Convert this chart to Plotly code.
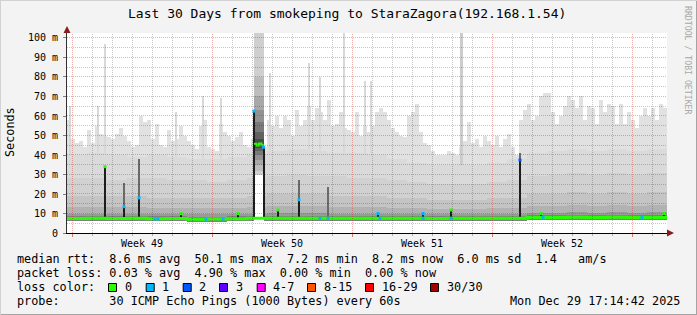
import math
import plotly.graph_objects as go

# ---------------- data ----------------
ENV_BIN = 0.2          # days per envelope bin
# upper edge of the smoke (max ping), one value per 0.2 day
smoke_max = [
    58, 48, 46, 47, 44, 53, 46, 55, 51, 50,
    49, 48, 51, 54, 50, 47, 44, 45, 60, 57,
    58, 48, 56, 45, 44, 53, 47, 48, 55, 50,
    47, 45, 43, 55, 58, 44, 43, 42, 56, 52,
    50, 47, 49, 52, 45, 44, 48, 45, 45, 44,
    58, 55, 60, 54, 60, 58, 50, 63, 55, 58,
    65, 58, 64, 62, 58, 68, 55, 56, 62, 54,
    53, 52, 62, 50, 55, 52, 55, 62, 64, 62,
    58, 54, 52, 50, 49, 60, 62, 66, 52, 46,
    45, 42, 40, 40, 40, 42, 41, 40, 44, 47,
    57, 46, 48, 44, 50, 47, 45, 50, 44, 48,
    51, 44, 40, 58, 63, 66, 58, 60, 70, 72,
    72, 62, 56, 60, 65, 70, 68, 64, 70, 58,
    65, 64, 56, 68, 62, 66, 65, 56, 66, 56,
    62, 58, 54, 60, 64, 60, 64, 58, 66, 64,
]
# inner smoke bands, one value per day
band2_top = [40, 41, 40, 39, 40, 39, 38, 38, 39, 40, 42, 43, 42, 41, 41,
             40, 38, 36, 35, 35, 35, 36, 38, 41, 42, 43, 42, 43, 42, 43]
band3_top = [28, 28, 27, 28, 28, 27, 27, 26, 27, 28, 29, 30, 29, 29, 28,
             28, 27, 26, 25, 25, 25, 26, 27, 29, 30, 31, 30, 31, 30, 31]
band4_top = [19, 19, 19, 19, 18, 18, 18, 18, 18, 19, 20, 20, 20, 19, 19,
             19, 18, 18, 17, 17, 17, 18, 18, 20, 20, 21, 20, 21, 20, 21]
band5_top = [13.5, 13.5, 13.5, 13.5, 13, 13, 13, 13, 13, 13.5, 14, 14, 14, 13.5, 13.5,
             13.5, 13, 13, 12.5, 12.5, 12.5, 13, 13, 14, 14, 14.5, 14, 14.5, 14, 14.5]
band6_top = [10, 10, 10, 10, 9.8, 9.8, 9.8, 9.6, 9.8, 10, 10.2, 10.2, 10.2, 10, 10,
             10, 9.8, 9.8, 9.6, 9.6, 9.6, 9.8, 9.8, 10.4, 10.4, 10.6, 10.4, 10.6, 10.4, 10.6]
band7_top = [8.6, 8.6, 8.7, 8.6, 8.5, 8.5, 8.4, 8.4, 8.5, 8.6, 8.7, 8.7, 8.6, 8.6, 8.7,
             8.6, 8.7, 8.6, 8.5, 8.6, 8.6, 8.7, 8.7, 9.1, 9.1, 9.2, 9.1, 9.2, 9.1, 9.1]
smoke_min = [6.0, 6.0, 6.1, 6.0, 5.9, 6.0, 5.8, 5.8, 5.9, 6.0, 6.1, 6.1, 6.0, 6.1, 6.1,
             6.0, 6.1, 6.0, 6.0, 6.0, 6.1, 6.1, 6.1, 6.6, 6.6, 6.7, 6.6, 6.7, 6.6, 6.6]
median_day = [7.4, 7.5, 7.4, 7.5, 7.3, 7.4, 7.1, 7.2, 7.3, 7.5, 7.5, 7.6, 7.5, 7.5, 7.6,
              7.5, 7.6, 7.5, 7.4, 7.5, 7.5, 7.6, 7.6, 8.0, 8.0, 8.1, 8.0, 8.1, 8.0, 8.0]

# isolated single high pings (thin light grey lines)
thin_spike_day = [0.15, 1.55, 1.9, 5.45, 6.8, 7.7, 10.15, 12.1, 12.65, 13.85, 14.9, 15.2]
thin_spike_val = [65, 65, 97, 62, 70, 69, 82, 87, 80, 102.5, 78, 78]
tall_col_day = [19.7]
tall_col_val = [102.5]

# short periods with a high median (dark columns)
dark_day = [1.9, 2.85, 3.6, 5.7, 8.55, 9.35, 9.83, 10.55, 11.6, 13.05, 15.55, 17.8, 19.2, 22.65, 23.7, 29.85]
dark_grey_top = [0, 25.6, 38, 0, 0, 0, 0, 0, 27, 23.7, 0, 0, 0, 41, 0, 0]
dark_black_top = [34, 13.5, 18, 10, 10, 62.5, 44, 11.8, 17, 0, 10, 10, 11.8, 37.4, 10, 10]
dark_loss = [0, 1, 1, 0, 0, 1, 1, 0, 1, 0, 1, 1, 0, 2, 0, 0]

# outage-like period at the start of week 50
gap_start, gap_end = 9.35, 9.85
gap_band_low = [29.5, 32, 35, 37.5, 40, 42, 43.5]
gap_band_high = [102.5, 80, 70, 63, 57, 52, 48]
gap_median = [45.8, 44.9, 45.9, 45.0]

# median samples with packet loss
loss_day = [4.4, 4.55, 6.95, 7.8, 12.65, 13.05, 15.65, 17.8, 19.2, 23.8, 28.75]
loss_count = [1, 1, 1, 1, 1, 1, 1, 1, 1, 1, 1]

week_line_days = [0.25, 7.25, 14.25, 21.25, 28.25]
week_label_days = [3.75, 10.75, 17.75, 24.75]
week_labels = ["Week 49", "Week 50", "Week 51", "Week 52"]
y_ticks = [0, 10, 20, 30, 40, 50, 60, 70, 80, 90, 100]
y_ticktext = ["0", "10 m", "20 m", "30 m", "40 m", "50 m", "60 m", "70 m", "80 m", "90 m", "100 m"]

title_text = "Last 30 Days from smokeping to StaraZagora(192.168.1.54)"
legend_line1 = "median rtt:  8.6 ms avg  50.1 ms max  7.2 ms min  8.2 ms now  6.0 ms sd  1.4   am/s"
legend_line2 = "packet loss: 0.03 % avg  4.90 % max  0.00 % min  0.00 % now"
legend_line3 = "loss color:"
legend_line4 = "probe:       30 ICMP Echo Pings (1000 Bytes) every 60s"
legend_date = "Mon Dec 29 17:14:42 2025"
loss_labels = ["0", "1", "2", "3", "4-7", "8-15", "16-29", "30/30"]
loss_colors = ["#26ff00", "#00b8ff", "#0059ff", "#5e00ff", "#ff00ff", "#ff5500", "#ff0000", "#a10000"]

# ---------------- geometry ----------------
W, H = 697, 315
L, R, T, B = 67, 30, 33, 82
PW, PH = W - L - R, H - T - B
Y_TOP = 102.56
X_MAX = 30
MONO = "DejaVu Sans Mono"


def px(xp):
    return (xp - L) / PW


def py(yp):
    return (T + PH - yp) / PH


def nb(s):
    return s.replace(" ", "\u00a0")


def crisp_x(d):
    p = L + d * PW / X_MAX
    return (math.floor(p) + 0.5 - L) * X_MAX / PW


def crisp_y(v):
    p = T + PH * (1 - v / Y_TOP)
    return (1 - (math.floor(p) + 0.5 - T) / PH) * Y_TOP


fig = go.Figure()

env_x = [ENV_BIN * (i + 0.5) for i in range(len(smoke_max))]
day_x = [d + 0.5 for d in range(len(band2_top))]

fig.add_trace(go.Bar(x=env_x, y=smoke_max, width=ENV_BIN, marker=dict(color="#e1e1e1", line=dict(width=0))))
fig.add_trace(go.Bar(x=thin_spike_day, y=thin_spike_val, width=0.05, marker=dict(color="#d8d8d8", line=dict(width=0))))
fig.add_trace(go.Bar(x=tall_col_day, y=tall_col_val, width=0.15, marker=dict(color="#cccccc", line=dict(width=0))))

for vals, col in [(band2_top, "#dadada"), (band3_top, "#d1d1d1"), (band4_top, "#c4c4c4"),
                  (band5_top, "#b2b2b2"), (band6_top, "#9a9a9a"), (band7_top, "#808080")]:
    fig.add_trace(go.Bar(x=day_x, y=vals, width=1.0, marker=dict(color=col, line=dict(width=0))))

fig.add_trace(go.Bar(x=day_x, y=smoke_min, width=1.0, marker=dict(color="#ffffff", line=dict(width=0))))

med_x = list(range(len(median_day) + 1))
med_y = median_day + [median_day[-1]]
fig.add_trace(go.Scatter(x=med_x, y=med_y, mode="lines", line=dict(color=loss_colors[0], width=3, shape="hv")))

loss_y = [median_day[int(d)] for d in loss_day]
fig.add_trace(go.Scatter(x=loss_day, y=loss_y, mode="markers",
                         marker=dict(symbol="square", size=3, color=[loss_colors[n] for n in loss_count], line=dict(width=0))))

# gap column
gap_c = (gap_start + gap_end) / 2
gap_w = gap_end - gap_start
fig.add_trace(go.Bar(x=[gap_c], y=[Y_TOP], width=gap_w, marker=dict(color="#ffffff", line=dict(width=0))))
gap_cols = ["#cfcfcf", "#bdbdbd", "#a8a8a8", "#929292", "#7a7a7a", "#626262", "#4a4a4a"]
for lo, hi, col in zip(gap_band_low, gap_band_high, gap_cols):
    fig.add_trace(go.Bar(x=[gap_c], y=[hi - lo], base=[lo], width=gap_w, marker=dict(color=col, line=dict(width=0))))
gm_step = gap_w / len(gap_median)
gm_x = [gap_start + gm_step * i for i in range(len(gap_median) + 1)]
fig.add_trace(go.Scatter(x=gm_x, y=gap_median + [gap_median[-1]], mode="lines",
                         line=dict(color=loss_colors[0], width=2, shape="hv")))

# dark columns
base = [median_day[int(d)] for d in dark_day]
gx = [d for d, g in zip(dark_day, dark_grey_top) if g > 0]
gy = [g - b for g, b in zip(dark_grey_top, base) if g > 0]
gb = [b for g, b in zip(dark_grey_top, base) if g > 0]
fig.add_trace(go.Bar(x=gx, y=gy, base=gb, width=0.05, marker=dict(color="#6a6a6a", line=dict(width=0))))
kx = [d for d, k in zip(dark_day, dark_black_top) if k > 0]
ky = [k - b for k, b in zip(dark_black_top, base) if k > 0]
kb = [b for k, b in zip(dark_black_top, base) if k > 0]
fig.add_trace(go.Bar(x=kx, y=ky, base=kb, width=0.1, marker=dict(color="#1c1c1c", line=dict(width=0))))
kc = [loss_colors[n] for k, n in zip(dark_black_top, dark_loss) if k > 0]
fig.add_trace(go.Scatter(x=kx, y=[k for k in dark_black_top if k > 0], mode="markers",
                         marker=dict(symbol="square", size=3, color=kc, line=dict(width=0))))

# ---------------- grid (drawn over the smoke, like rrdtool) ----------------
shapes = []
red = "rgba(210,40,40,0.38)"
grey = "rgba(0,0,0,0.22)"
for k in range(X_MAX):
    d = week_line_days[0] + k
    col = red if any(abs(d - w) < 1e-6 for w in week_line_days) else grey
    xc = crisp_x(d)
    shapes.append(dict(type="line", xref="x", yref="paper", x0=xc, x1=xc, y0=0, y1=1,
                       line=dict(color=col, width=1, dash="1px,1px"), layer="above"))
for v in range(5, 101, 5):
    col = red if v % 10 == 0 else grey
    yc = crisp_y(v)
    shapes.append(dict(type="line", xref="paper", yref="y", x0=0, x1=1, y0=yc, y1=yc,
                       line=dict(color=col, width=1, dash="1px,1px"), layer="above"))
# axis arrows
arrow = "#8b1a1a"
shapes.append(dict(type="path", xref="paper", yref="paper",
                   path=f"M {px(63.5)} {py(33)} L {px(70.5)} {py(33)} L {px(67)} {py(26)} Z",
                   fillcolor=arrow, line=dict(width=0), layer="above"))
shapes.append(dict(type="path", xref="paper", yref="paper",
                   path=f"M {px(667)} {py(229.5)} L {px(667)} {py(236.5)} L {px(674)} {py(233)} Z",
                   fillcolor=arrow, line=dict(width=0), layer="above"))
# legend swatches
sq_left = [108, 145.7, 182.7, 219, 256.7, 307, 365, 430]
for xl, col in zip(sq_left, loss_colors):
    shapes.append(dict(type="rect", xref="paper", yref="paper",
                       x0=px(xl + 0.5), x1=px(xl + 8.5), y0=py(283.5), y1=py(291.5),
                       fillcolor=col, line=dict(color="#000000", width=1)))
# image frame
shapes.append(dict(type="rect", xref="paper", yref="paper", x0=px(0), x1=px(W), y0=py(H - 1), y1=py(H),
                   fillcolor="#a4a4a4", line=dict(width=0)))
shapes.append(dict(type="rect", xref="paper", yref="paper", x0=px(W - 1), x1=px(W), y0=py(H), y1=py(0),
                   fillcolor="#a4a4a4", line=dict(width=0)))
shapes.append(dict(type="rect", xref="paper", yref="paper", x0=px(0), x1=px(W), y0=py(1), y1=py(0),
                   fillcolor="#d2d2d2", line=dict(width=0)))
shapes.append(dict(type="rect", xref="paper", yref="paper", x0=px(0), x1=px(1), y0=py(H), y1=py(0),
                   fillcolor="#d2d2d2", line=dict(width=0)))

# ---------------- text ----------------
ann = []
ann.append(dict(text=nb(title_text), x=px(347), y=py(13.5), xref="paper", yref="paper",
                showarrow=False, xanchor="center", yanchor="middle", font=dict(family=MONO, size=13, color="#000")))
ann.append(dict(text=nb("RRDTOOL / TOBI OETIKER"), x=px(688), y=py(60), xref="paper", yref="paper",
                showarrow=False, textangle=90, xanchor="center", yanchor="middle",
                font=dict(family=MONO, size=8.2, color="#a8a8a8")))
ann.append(dict(text="Seconds", x=px(10), y=py(132), xref="paper", yref="paper", showarrow=False,
                textangle=-90, xanchor="center", yanchor="middle", font=dict(family=MONO, size=11.8, color="#000")))
for d, t in zip(week_label_days, week_labels):
    ann.append(dict(text=nb(t), x=d, y=py(243), xref="x", yref="paper", showarrow=False,
                    xanchor="center", yanchor="middle", font=dict(family=MONO, size=10, color="#000")))
for txt, yy in [(legend_line1, 259), (legend_line2, 273), (legend_line3, 287), (legend_line4, 301)]:
    ann.append(dict(text=nb(txt), x=px(16), y=py(yy), xref="paper", yref="paper", showarrow=False,
                    xanchor="left", yanchor="middle", borderpad=0, font=dict(family=MONO, size=11.8, color="#000")))
ann.append(dict(text=nb(legend_date), x=px(681), y=py(301), xref="paper", yref="paper", showarrow=False,
                xanchor="right", yanchor="middle", borderpad=0, font=dict(family=MONO, size=11.8, color="#000")))
for xl, lab in zip(sq_left, loss_labels):
    ann.append(dict(text=nb(lab), x=px(xl + 15.5), y=py(287), xref="paper", yref="paper", showarrow=False,
                    xanchor="left", yanchor="middle", borderpad=0, font=dict(family=MONO, size=11.8, color="#000")))

fig.update_layout(
    width=W, height=H, margin=dict(l=L, r=R, t=T, b=B, autoexpand=False),
    paper_bgcolor="#f3f3f3", plot_bgcolor="#ffffff",
    barmode="overlay", bargap=0, showlegend=False,
    shapes=shapes, annotations=ann,
    font=dict(family=MONO, size=10, color="#000"),
)
fig.update_xaxes(range=[0, X_MAX], tickmode="array", tickvals=week_line_days, showticklabels=False,
                 showgrid=False, zeroline=False, ticks="outside", ticklen=3, tickcolor="#d08080",
                 showline=True, linecolor="#000000", linewidth=1, layer="above traces",
                 minor=dict(tickmode="linear", tick0=week_line_days[0], dtick=1, ticks="outside",
                            ticklen=2, tickcolor="#b0b0b0", showgrid=False))
fig.update_yaxes(range=[0, Y_TOP], tickmode="array", tickvals=y_ticks, ticktext=y_ticktext,
                 showgrid=False, zeroline=False, ticks="outside", ticklen=3, tickcolor="#808080",
                 showline=True, linecolor="#303030", linewidth=1, layer="above traces",
                 tickfont=dict(family=MONO, size=10, color="#000"), ticklabelstandoff=3)

fig.write_html("out.html")
